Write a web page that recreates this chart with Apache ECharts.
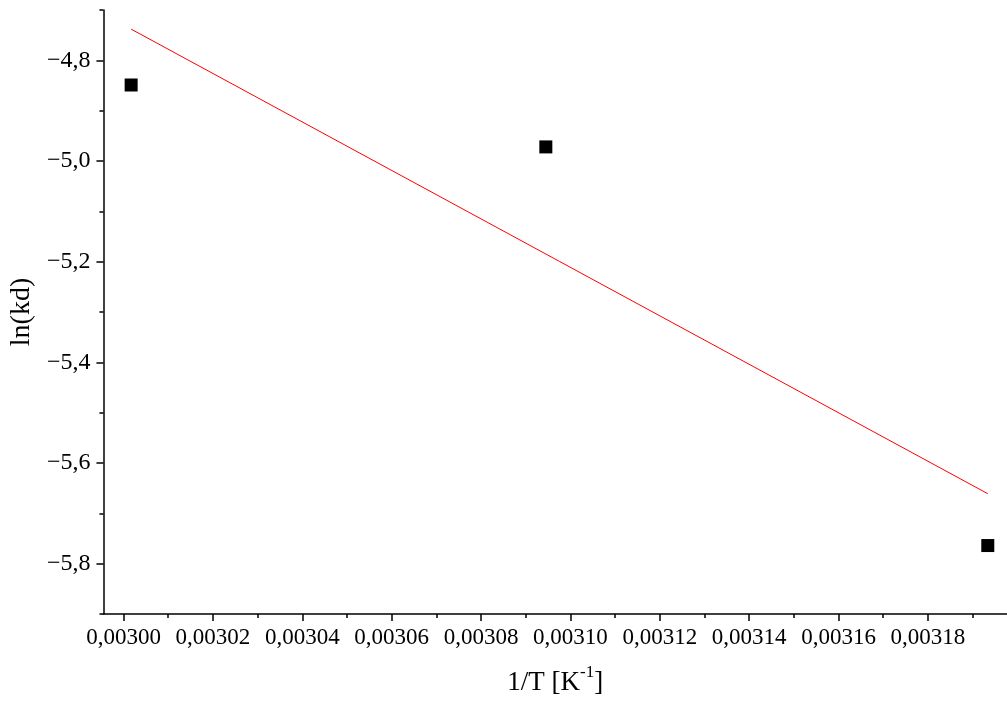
<!DOCTYPE html>
<html>
<head>
<meta charset="utf-8">
<script src="https://cdn.jsdelivr.net/npm/echarts@6/dist/echarts.min.js"></script>
<style>html,body{margin:0;padding:0;background:#fff}#c{width:1007px;height:702px}</style>
</head>
<body>
<div id="c"></div>
<script>
// Data
var invT = [0.0030017, 0.0030945, 0.0031934];
var lnKd = [-4.849, -4.972, -5.764];
var fitX = [0.0030017, 0.0031934];
var fitY = [-4.738, -5.661];
var xTicks = [0.00300, 0.00302, 0.00304, 0.00306, 0.00308, 0.00310, 0.00312, 0.00314, 0.00316, 0.00318];
var xMinorTicks = [0.00301, 0.00303, 0.00305, 0.00307, 0.00309, 0.00311, 0.00313, 0.00315, 0.00317, 0.00319];
var yTicks = [-5.8, -5.6, -5.4, -5.2, -5.0, -4.8];
var yMinorTicks = [-5.9, -5.7, -5.5, -5.3, -5.1, -4.9, -4.7];
var xMin = 0.0029955, xMax = 0.0031977;
var yMin = -5.9, yMax = -4.7;

var FONT = '"Liberation Serif", "Times New Roman", serif';
function fmtX(v) { return v.toFixed(5).replace('.', ','); }
function fmtY(v) { return v.toFixed(1).replace('.', ',').replace('-', '\u2212'); }

var chart = echarts.init(document.getElementById('c'), null, {renderer: 'canvas'});
var axisLine = {show: true, onZero: false, lineStyle: {color: '#000', width: 1.5}};
chart.setOption({
  backgroundColor: '#fff',
  animation: false,
  grid: {left: 101, top: 10, right: 0, bottom: 88, containLabel: false},
  xAxis: [{
    type: 'value', min: xMin, max: xMax, position: 'bottom',
    axisLine: axisLine,
    splitLine: {show: false},
    axisTick: {show: true, inside: false, length: 7, customValues: xTicks, lineStyle: {color: '#000', width: 1.5}},
    axisLabel: {show: true, customValues: xTicks, formatter: fmtX, margin: 12, color: '#000', fontFamily: FONT, fontSize: 23},
    name: '{a|1/T [K}{s|-1}{a|]}', nameLocation: 'middle', nameGap: 50,
    nameTextStyle: {
      rich: {
        a: {fontFamily: FONT, fontSize: 27, color: '#000', verticalAlign: 'bottom', lineHeight: 32},
        s: {fontFamily: FONT, fontSize: 17, color: '#000', verticalAlign: 'top', lineHeight: 30}
      }
    }
  }, {
    type: 'value', min: xMin, max: xMax, position: 'bottom', offset: 0,
    axisLine: {show: false, onZero: false},
    splitLine: {show: false},
    axisTick: {show: true, inside: false, length: 4, customValues: xMinorTicks, lineStyle: {color: '#000', width: 1.5}},
    axisLabel: {show: false}
  }],
  yAxis: [{
    type: 'value', min: yMin, max: yMax, position: 'left',
    axisLine: axisLine,
    splitLine: {show: false},
    axisTick: {show: true, inside: false, length: 7, customValues: yTicks, lineStyle: {color: '#000', width: 1.5}},
    axisLabel: {show: true, customValues: yTicks, formatter: fmtY, margin: 13, color: '#000', fontFamily: FONT, fontSize: 24},
    name: 'ln(kd)', nameLocation: 'middle', nameGap: 62, nameRotate: 90,
    nameTextStyle: {fontFamily: FONT, fontSize: 28, color: '#000'}
  }, {
    type: 'value', min: yMin, max: yMax, position: 'left', offset: 0,
    axisLine: {show: false, onZero: false},
    splitLine: {show: false},
    axisTick: {show: true, inside: false, length: 4, customValues: yMinorTicks, lineStyle: {color: '#000', width: 1.5}},
    axisLabel: {show: false}
  }],
  series: [{
    type: 'line', xAxisIndex: 0, yAxisIndex: 0,
    data: fitX.map(function (x, i) { return [x, fitY[i]]; }),
    showSymbol: false, symbol: 'none',
    lineStyle: {color: '#ff0000', width: 1}, z: 2
  }, {
    type: 'scatter', xAxisIndex: 0, yAxisIndex: 0,
    data: invT.map(function (x, i) { return [x, lnKd[i]]; }),
    symbol: 'rect', symbolSize: 13,
    itemStyle: {color: '#000', opacity: 1}, z: 3
  }]
});
</script>
</body>
</html>
